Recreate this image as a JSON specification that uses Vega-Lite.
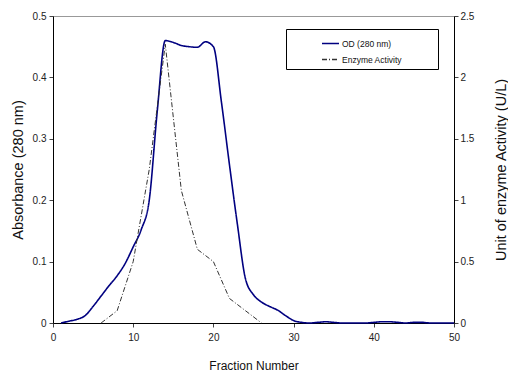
{
  "$schema": "https://vega.github.io/schema/vega-lite/v6.json",
  "width": 401,
  "height": 307,
  "autosize": {"type": "none"},
  "padding": {"left": 53, "top": 16, "right": 54, "bottom": 58},
  "background": "white",
  "config": {
    "view": {"stroke": "#999999", "strokeWidth": 1},
    "font": "Liberation Sans",
    "axis": {
      "labelFont": "Liberation Sans",
      "titleFont": "Liberation Sans",
      "labelFontSize": 10,
      "labelColor": "#222222",
      "titleColor": "#111111",
      "titleFontWeight": "normal",
      "domainColor": "#000000",
      "domainWidth": 1,
      "tickColor": "#444444",
      "tickSize": 4,
      "grid": false,
      "labelFlush": false
    },
    "legend": {
      "orient": "none", "legendX": 233, "legendY": 13,
      "titleOrient": "right", "titlePadding": 28, "titleFontSize": 4, "titleColor": "#fffffe", "titleLimit": 0,
      "strokeColor": "#000000", "fillColor": "#ffffff",
      "padding": 5, "symbolOffset": 30, "rowPadding": 2,
      "labelFontSize": 8.5, "labelFont": "Liberation Sans", "labelColor": "#111111",
      "labelOffset": 2,
      "symbolType": "stroke", "symbolSize": 289, "symbolStrokeWidth": 1.5
    }
  },
  "data": {
    "values": [
      {"fraction": 1, "value": 0, "series": "OD (280 nm)"},
      {"fraction": 2, "value": 0.003, "series": "OD (280 nm)"},
      {"fraction": 3, "value": 0.006, "series": "OD (280 nm)"},
      {"fraction": 4, "value": 0.012, "series": "OD (280 nm)"},
      {"fraction": 5, "value": 0.027, "series": "OD (280 nm)"},
      {"fraction": 6, "value": 0.044, "series": "OD (280 nm)"},
      {"fraction": 7, "value": 0.061, "series": "OD (280 nm)"},
      {"fraction": 8, "value": 0.077, "series": "OD (280 nm)"},
      {"fraction": 9, "value": 0.097, "series": "OD (280 nm)"},
      {"fraction": 10, "value": 0.124, "series": "OD (280 nm)"},
      {"fraction": 11, "value": 0.152, "series": "OD (280 nm)"},
      {"fraction": 12, "value": 0.2, "series": "OD (280 nm)"},
      {"fraction": 13, "value": 0.345, "series": "OD (280 nm)"},
      {"fraction": 14, "value": 0.46, "series": "OD (280 nm)"},
      {"fraction": 15, "value": 0.457, "series": "OD (280 nm)"},
      {"fraction": 16, "value": 0.452, "series": "OD (280 nm)"},
      {"fraction": 17, "value": 0.45, "series": "OD (280 nm)"},
      {"fraction": 18, "value": 0.449, "series": "OD (280 nm)"},
      {"fraction": 19, "value": 0.458, "series": "OD (280 nm)"},
      {"fraction": 20, "value": 0.45, "series": "OD (280 nm)"},
      {"fraction": 21, "value": 0.36, "series": "OD (280 nm)"},
      {"fraction": 22, "value": 0.258, "series": "OD (280 nm)"},
      {"fraction": 23, "value": 0.16, "series": "OD (280 nm)"},
      {"fraction": 24, "value": 0.072, "series": "OD (280 nm)"},
      {"fraction": 25, "value": 0.046, "series": "OD (280 nm)"},
      {"fraction": 26, "value": 0.034, "series": "OD (280 nm)"},
      {"fraction": 27, "value": 0.027, "series": "OD (280 nm)"},
      {"fraction": 28, "value": 0.021, "series": "OD (280 nm)"},
      {"fraction": 29, "value": 0.012, "series": "OD (280 nm)"},
      {"fraction": 30, "value": 0.004, "series": "OD (280 nm)"},
      {"fraction": 31, "value": 0.001, "series": "OD (280 nm)"},
      {"fraction": 32, "value": 0, "series": "OD (280 nm)"},
      {"fraction": 33, "value": 0.001, "series": "OD (280 nm)"},
      {"fraction": 34, "value": 0.002, "series": "OD (280 nm)"},
      {"fraction": 35, "value": 0.001, "series": "OD (280 nm)"},
      {"fraction": 36, "value": 0, "series": "OD (280 nm)"},
      {"fraction": 37, "value": 0, "series": "OD (280 nm)"},
      {"fraction": 38, "value": 0, "series": "OD (280 nm)"},
      {"fraction": 39, "value": 0, "series": "OD (280 nm)"},
      {"fraction": 40, "value": 0.001, "series": "OD (280 nm)"},
      {"fraction": 41, "value": 0.002, "series": "OD (280 nm)"},
      {"fraction": 42, "value": 0.002, "series": "OD (280 nm)"},
      {"fraction": 43, "value": 0.001, "series": "OD (280 nm)"},
      {"fraction": 44, "value": 0, "series": "OD (280 nm)"},
      {"fraction": 45, "value": 0.001, "series": "OD (280 nm)"},
      {"fraction": 46, "value": 0.001, "series": "OD (280 nm)"},
      {"fraction": 47, "value": 0, "series": "OD (280 nm)"},
      {"fraction": 48, "value": 0, "series": "OD (280 nm)"},
      {"fraction": 49, "value": 0, "series": "OD (280 nm)"},
      {"fraction": 50, "value": 0, "series": "OD (280 nm)"},
      {"fraction": 6, "value": 0, "series": "Enzyme Activity"},
      {"fraction": 8, "value": 0.1, "series": "Enzyme Activity"},
      {"fraction": 10, "value": 0.5, "series": "Enzyme Activity"},
      {"fraction": 12, "value": 1.25, "series": "Enzyme Activity"},
      {"fraction": 14, "value": 2.27, "series": "Enzyme Activity"},
      {"fraction": 16, "value": 1.08, "series": "Enzyme Activity"},
      {"fraction": 18, "value": 0.6, "series": "Enzyme Activity"},
      {"fraction": 20, "value": 0.5, "series": "Enzyme Activity"},
      {"fraction": 22, "value": 0.2, "series": "Enzyme Activity"},
      {"fraction": 24, "value": 0.1, "series": "Enzyme Activity"},
      {"fraction": 26, "value": 0, "series": "Enzyme Activity"}
    ]
  },
  "layer": [
    {
      "transform": [{"filter": "datum.series == 'OD (280 nm)'"}],
      "mark": {"type": "line", "interpolate": "monotone", "strokeWidth": 1.6},
      "encoding": {
        "x": {
          "field": "fraction", "type": "quantitative",
          "scale": {"domain": [0, 50]},
          "axis": {"values": [0, 10, 20, 30, 40, 50], "title": "Fraction Number", "titleFontSize": 12, "titlePadding": 18, "labelPadding": 5}
        },
        "y": {
          "field": "value", "type": "quantitative",
          "scale": {"domain": [0, 0.5]},
          "axis": {"values": [0, 0.1, 0.2, 0.3, 0.4, 0.5], "format": "~g", "title": "Absorbance (280 nm)", "titleFontSize": 14.5, "titlePadding": 7, "labelPadding": 3}
        },
        "color": {
          "field": "series", "type": "nominal", "title": "x",
          "scale": {"domain": ["OD (280 nm)", "Enzyme Activity"], "range": ["#000080", "#333333"]}
        },
        "strokeDash": {
          "field": "series", "type": "nominal", "title": "x",
          "scale": {"domain": ["OD (280 nm)", "Enzyme Activity"], "range": [[1, 0], [5, 2, 1, 2]]}
        }
      }
    },
    {
      "transform": [{"filter": "datum.series == 'Enzyme Activity'"}],
      "mark": {"type": "line", "interpolate": "linear", "strokeWidth": 1},
      "encoding": {
        "x": {"field": "fraction", "type": "quantitative", "scale": {"domain": [0, 50]}},
        "y": {
          "field": "value", "type": "quantitative",
          "scale": {"domain": [0, 2.5]},
          "axis": {"orient": "right", "values": [0, 0.5, 1, 1.5, 2, 2.5], "format": "~g", "title": "Unit of enzyme Activity (U/L)", "titleFontSize": 14.5, "titleAngle": 270, "titlePadding": 35, "labelPadding": 2}
        },
        "color": {"field": "series", "type": "nominal", "title": "x", "scale": {"domain": ["OD (280 nm)", "Enzyme Activity"], "range": ["#000080", "#333333"]}},
        "strokeDash": {"field": "series", "type": "nominal", "title": "x", "scale": {"domain": ["OD (280 nm)", "Enzyme Activity"], "range": [[1, 0], [5, 2, 1, 2]]}}
      }
    }
  ],
  "resolve": {"scale": {"y": "independent"}}
}
